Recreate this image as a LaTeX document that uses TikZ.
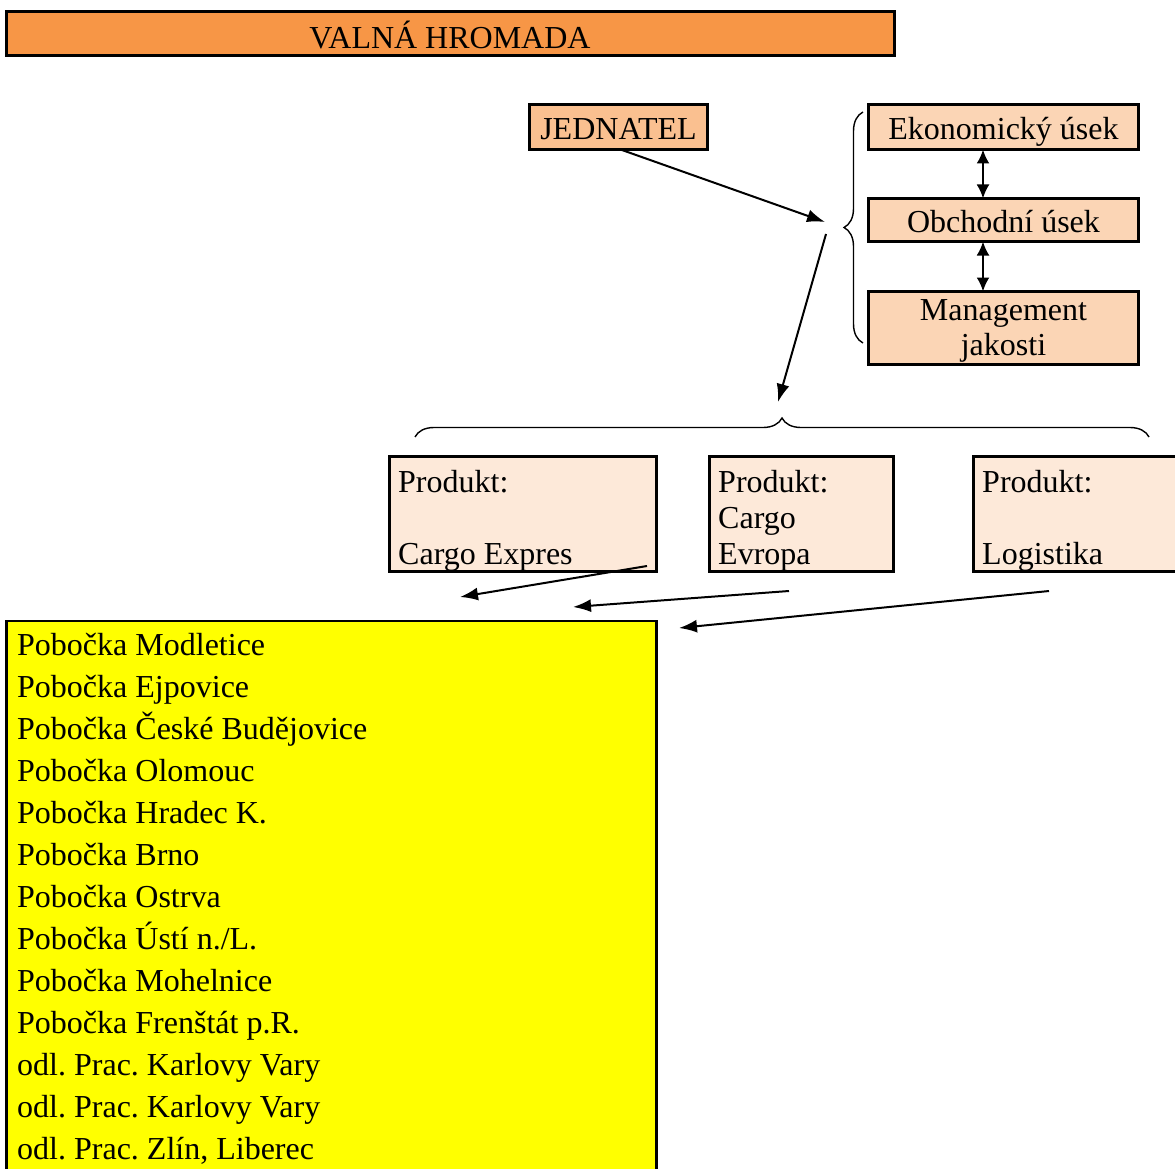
\documentclass[tikz,border=0pt]{standalone}
\usepackage{fontspec}
\setmainfont{Liberation Serif}
\usetikzlibrary{arrows.meta,decorations.pathreplacing}
\definecolor{valna}{HTML}{F79646}
\definecolor{jedn}{HTML}{FAC090}
\definecolor{usek}{HTML}{FBD5B5}
\definecolor{prod}{HTML}{FDE9D9}
\definecolor{pob}{HTML}{FFFF00}
\tikzset{
  box/.style={draw, line width=2.8pt, inner sep=0pt, outer sep=0pt, anchor=north west},
  txt/.style={inner sep=0pt, anchor=base},
  ltxt/.style={inner sep=0pt, anchor=base west},
  arr/.style={line width=2pt, -{Latex[length=18pt,width=13pt]}},
  darr/.style={line width=2.4pt, {Latex[length=14pt,width=13pt]}-{Latex[length=14pt,width=13pt]}},
  bracestyle/.style={line width=1.4pt, decorate, decoration={brace, amplitude=19pt}}
}
\begin{document}
\frenchspacing
\begin{tikzpicture}[x=1pt,y=-1pt,font=\fontsize{32}{36}\selectfont]
\useasboundingbox (0,0) rectangle (1175,1169);
% boxes
\node[box, fill=valna, minimum width=888pt, minimum height=44pt] (valna) at (6.5,11.5) {};
\node[txt] (tvalna) at (450,49) {VALNÁ HROMADA};
\node[box, fill=jedn, minimum width=178pt, minimum height=45pt] (jed) at (529.5,104.5) {};
\node[txt] (tjed) at (618.5,140) {JEDNATEL};
\node[box, fill=usek, minimum width=270pt, minimum height=45pt] (eko) at (868.5,104.5) {};
\node[txt] (teko) at (1003.5,140) {Ekonomický úsek};
\node[box, fill=usek, minimum width=270pt, minimum height=43pt] (obch) at (868.5,198.5) {};
\node[txt] (tobch) at (1003.5,233) {Obchodní úsek};
\node[box, fill=usek, minimum width=270pt, minimum height=73pt] (mgmt) at (868.5,291.5) {};
\node[txt] (tmgmt1) at (1003.5,320) {Management};
\node[txt] (tmgmt2) at (1003.5,355) {jakosti};
% double arrows
\draw[darr] ([xshift=-20.5pt]eko.south) -- ([xshift=-20.5pt]obch.north);
\draw[darr] ([xshift=-20.5pt]obch.south) -- ([xshift=-20.5pt]mgmt.north);
% vertical brace
\coordinate (vb1) at (863,343);
\coordinate (vb2) at (863,112);
\draw[bracestyle] (vb1) -- (vb2);
% arrows from JEDNATEL
\coordinate (c1) at (825,222);
\coordinate (c2) at (826,234);
\coordinate (c3) at (778,402);
\draw[arr] ([xshift=2pt]jed.south) -- (c1);
\draw[arr] (c2) -- (c3);
% horizontal brace
\coordinate (hb1) at (415,437);
\coordinate (hb2) at (1149,437);
\draw[bracestyle] (hb1) -- (hb2);
% product boxes
\node[box, fill=prod, minimum width=267pt, minimum height=115pt] (p1) at (389.5,456.5) {};
\node[ltxt] (p1a) at (398,492) {Produkt:};
\node[ltxt] (p1b) at (398,564) {Cargo Expres};
\node[box, fill=prod, minimum width=184pt, minimum height=115pt] (p2) at (709.5,456.5) {};
\node[ltxt] (p2a) at (718,492) {Produkt:};
\node[ltxt] (p2b) at (718,528) {Cargo};
\node[ltxt] (p2c) at (718,564) {Evropa};
\node[box, fill=prod, minimum width=240pt, minimum height=115pt] (p3) at (973.5,456.5) {};
\node[ltxt] (p3a) at (982,492) {Produkt:};
\node[ltxt] (p3b) at (982,564) {Logistika};
% yellow box
\node[box, fill=pob, minimum width=650pt, minimum height=600pt] (pobox) at (6.5,621) {};
\foreach \t [count=\i from 0] in {Pobočka Modletice, Pobočka Ejpovice, Pobočka České Budějovice, Pobočka Olomouc, Pobočka Hradec K., Pobočka Brno, Pobočka Ostrva, Pobočka Ústí n./L., Pobočka Mohelnice, Pobočka Frenštát p.R., odl. Prac. Karlovy Vary, odl. Prac. Karlovy Vary, {odl. Prac. Zlín, Liberec}}
  \node[ltxt] (pob\i) at (17,{655+42*\i}) {\t};
% product arrows
\coordinate (a1s) at (647,566);
\coordinate (a1e) at (460,597);
\coordinate (a2s) at (789,591);
\coordinate (a2e) at (573,607);
\coordinate (a3s) at (1049,591);
\coordinate (a3e) at (679,628);
\draw[arr] (a1s) -- (a1e);
\draw[arr] (a2s) -- (a2e);
\draw[arr] (a3s) -- (a3e);
\end{tikzpicture}
\end{document}
